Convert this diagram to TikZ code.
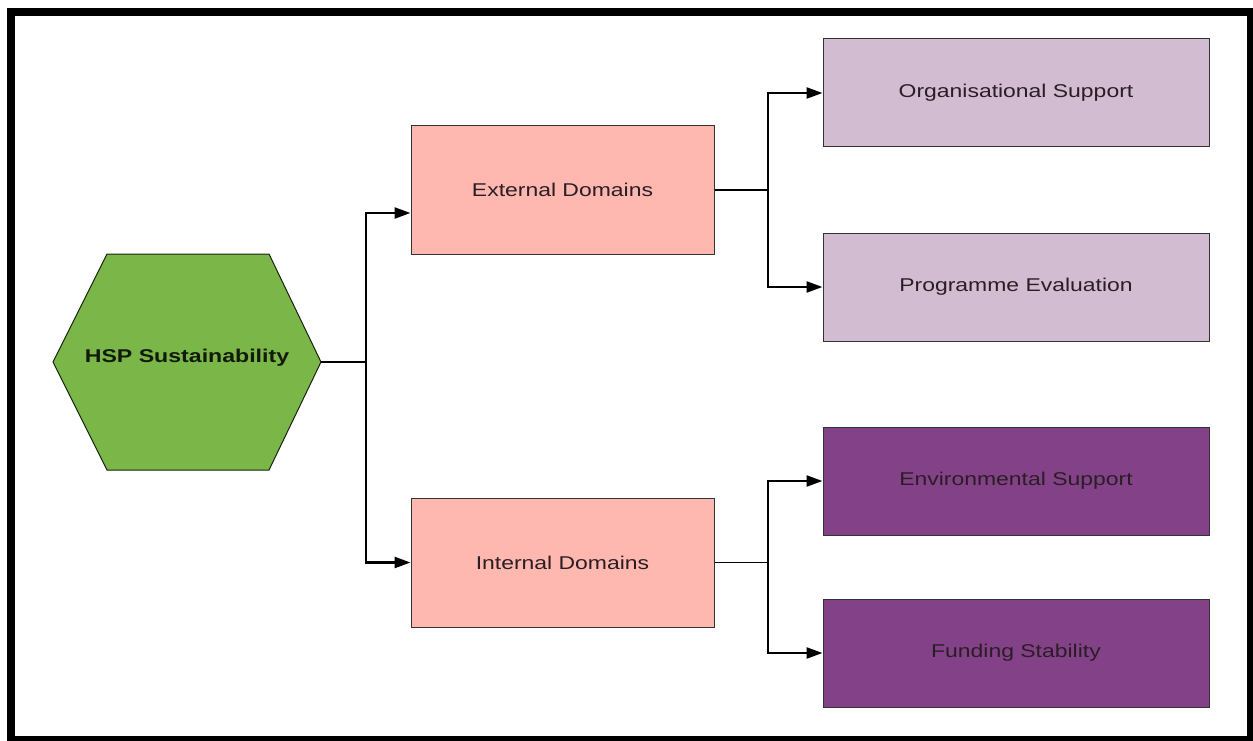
\documentclass[tikz,border=0pt]{standalone}
\usepackage{fontspec}
\usepackage{graphicx}
\setmainfont{Liberation Sans}
\usetikzlibrary{arrows.meta}
\definecolor{hexgreen}{HTML}{7AB648}
\definecolor{pinkbox}{HTML}{FFB8AF}
\definecolor{lilac}{HTML}{D1BCD2}
\definecolor{plum}{HTML}{834187}
\definecolor{txtdark}{HTML}{2A1E24}
\definecolor{edgegray}{HTML}{333333}
\newcommand{\wtxt}[1]{\scalebox{1.24}[1]{#1}}
\tikzset{
  box/.style={draw=edgegray, line width=1pt, minimum width=#1, inner sep=0pt,
              font=\fontsize{18.5}{22}\selectfont, text=txtdark},
  stem/.style={line width=1.4pt, black},
  arr/.style={line width=2.4pt, black, -{Triangle[length=16pt,width=11pt]}},
}
\begin{document}
\begin{tikzpicture}[x=1pt,y=-1pt]
\useasboundingbox (0,0) rectangle (1253,741);
% frame
\fill[black] (7,8) rectangle (1253,741);
\fill[white] (15,16) rectangle (1247,736);
% hexagon
\draw[fill=hexgreen, draw=black!80!hexgreen, line width=1pt]
  (53,362) -- (107,254) -- (269,254) -- (321,362) -- (269,470) -- (107,470) -- cycle;
\coordinate (hexE) at (321,362);
\node[font=\bfseries\fontsize{18.5}{22}\selectfont, text=black!85!hexgreen] (hex) at (187,358) {\scalebox{1.25}[1]{HSP Sustainability}};
% middle boxes
\node[box=303pt, minimum height=128pt, fill=pinkbox] (ext) at (562.5,190) {\wtxt{External Domains}};
\node[box=303pt, minimum height=129pt, fill=pinkbox] (int) at (562.5,562.5) {\wtxt{Internal Domains}};
% right boxes
\node[box=386pt, minimum height=108pt, fill=lilac] (org) at (1016,93) {\wtxt{Organisational Support}};
\node[box=386pt, minimum height=108pt, fill=lilac] (prog) at (1016,287) {\wtxt{Programme Evaluation}};
\node[box=386pt, minimum height=108pt, fill=plum] (env) at (1016,481) {\wtxt{Environmental Support}};
\node[box=386pt, minimum height=108pt, fill=plum] (fund) at (1016,653) {\wtxt{Funding Stability}};
% junctions
\coordinate (j1) at (366,362);
\coordinate (j2) at (768,190);
\coordinate (j3) at (768,562.5);
\coordinate (extin) at ([yshift=-23pt]ext.west);
% connectors
\draw[stem] (hexE) -- (j1);
\draw[arr] (j1) |- (extin);
\draw[arr] (j1) |- (int.west);
\draw[stem] (ext.east) -- (j2);
\draw[arr] (j2) |- (org.west);
\draw[arr] (j2) |- (prog.west);
\draw[stem] (int.east) -- (j3);
\draw[arr] (j3) |- (env.west);
\draw[arr] (j3) |- (fund.west);
\end{tikzpicture}
\end{document}
